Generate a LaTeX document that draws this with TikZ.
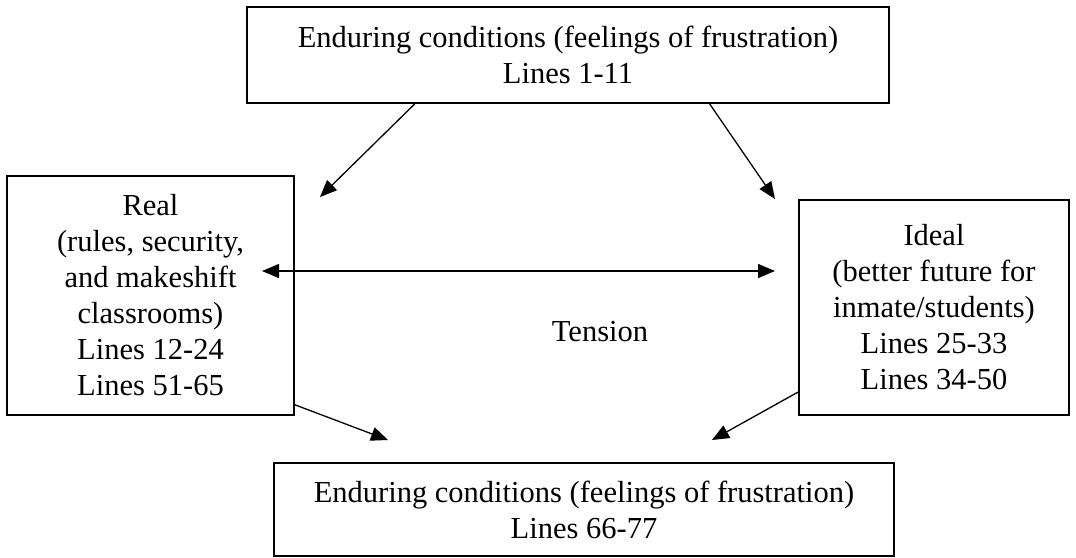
\documentclass[tikz,border=0pt]{standalone}
\usepackage{fontspec}
\setmainfont{Liberation Serif}
\usetikzlibrary{arrows.meta,calc}
\tikzset{
	box/.style={draw, line width=1.7pt, align=center, inner sep=0pt,
		font=\fontsize{30.5}{36}\selectfont},
	tip/.style={Triangle[length=17pt,width=14pt]},
	conn/.style={line width=1.3pt, -{Triangle[length=17pt,width=14pt]}},
}
\begin{document}
\begin{tikzpicture}[x=1pt,y=-1pt]
	\useasboundingbox (0,0) rectangle (1076,557);
	% boxes
	\node[box, minimum width=642pt, minimum height=96pt] (topcond) at (568,55)
		{Enduring conditions (feelings of frustration)\\Lines 1-11};
	\node[box, minimum width=287pt, minimum height=239pt] (real) at (150.5,295.5)
		{Real\\(rules, security,\\and makeshift\\classrooms)\\Lines 12-24\\Lines 51-65};
	\node[box, minimum width=270pt, minimum height=215pt] (ideal) at (934,307.5)
		{Ideal\\(better future for\\inmate/students)\\Lines 25-33\\Lines 34-50};
	\node[box, minimum width=620pt, minimum height=93pt] (botcond) at (584,509.5)
		{Enduring conditions (feelings of frustration)\\Lines 66-77};
	\node[font=\fontsize{30.5}{36}\selectfont] (tension) at (600,332) {Tension};
	% arrow tips
	\coordinate (realtip) at (320,197);
	\coordinate (idealtip) at (775,199);
	\coordinate (tensl) at (262,271);
	\coordinate (tensr) at (775,271);
	\coordinate (botl) at (388,440);
	\coordinate (botr) at (712,440);
	% arrows
	\draw[conn] ($(topcond.south west)!0.262!(topcond.south east)$) -- (realtip);
	\draw[conn] ($(topcond.south west)!0.72!(topcond.south east)$) -- (idealtip);
	\draw[line width=1.3pt, {Triangle[length=17pt,width=14pt]}-{Triangle[length=17pt,width=14pt]}] (tensl) -- (tensr);
	\draw[conn] ($(real.north east)!0.954!(real.south east)$) -- (botl);
	\draw[conn] ($(ideal.north west)!0.89!(ideal.south west)$) -- (botr);
\end{tikzpicture}
\end{document}
